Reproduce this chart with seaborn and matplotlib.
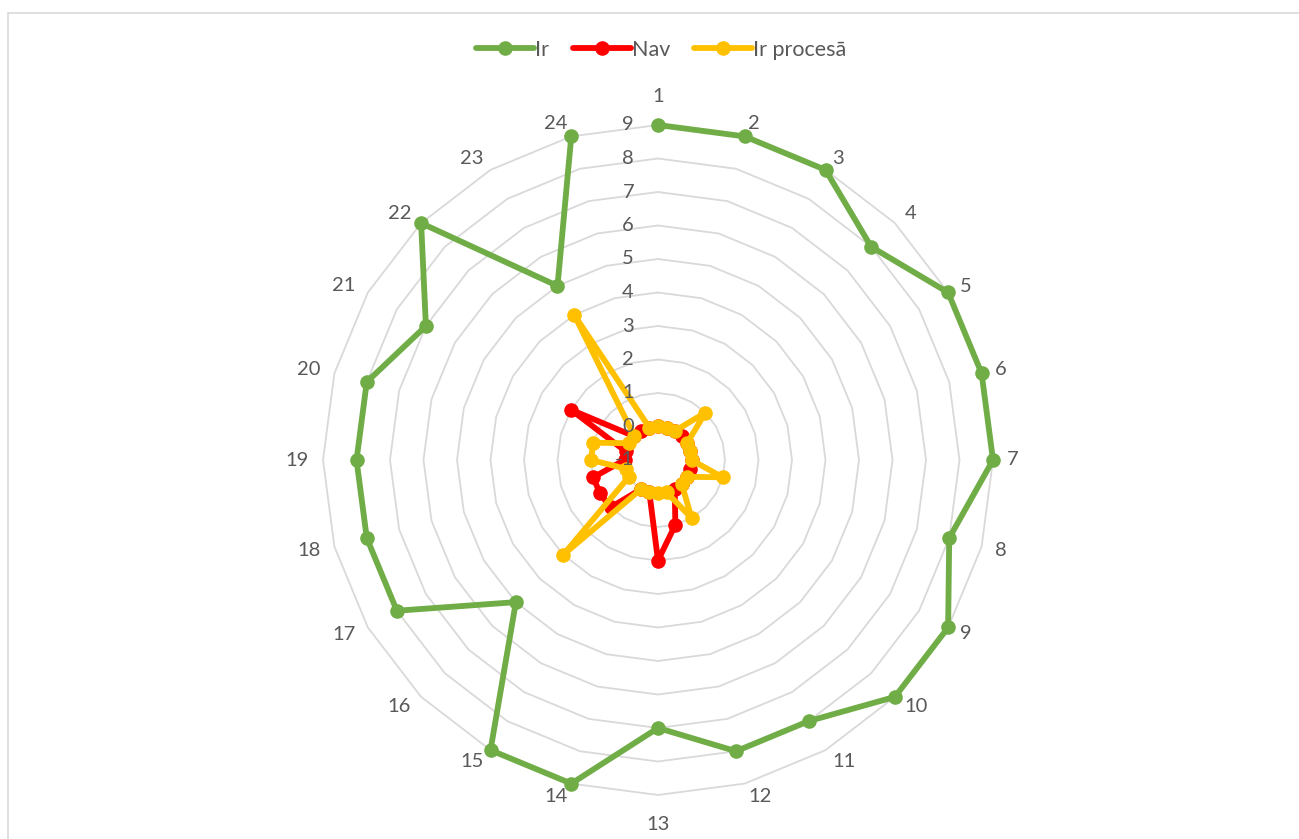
import numpy as np
import pandas as pd
import matplotlib
matplotlib.use("Agg")
import matplotlib.pyplot as plt
import matplotlib.transforms as mtransforms
from matplotlib.lines import Line2D
import seaborn as sns

# ---- data -------------------------------------------------------------
categories = [str(i) for i in range(1, 25)]
ir = [9, 9, 9, 8, 9, 9, 9, 8, 9, 9, 8, 8, 7, 9, 9, 5, 8, 8, 8, 8, 7, 9, 5, 9]
nav = [0, 0, 0, 0, 0, 0, 0, 0, 0, 0, 0, 1, 2, 0, 0, 1, 1, 1, 0, 0, 2, 0, 0, 0]
ir_procesa = [0, 0, 0, 1, 0, 0, 0, 1, 0, 0, 1, 0, 0, 0, 0, 3, 0, 0, 1, 1, 0, 0, 4, 0]
series_names = ["Ir", "Nav", "Ir procesā"]
series_values = [ir, nav, ir_procesa]
series_colors = ["#70AD47", "#FF0000", "#FFC000"]
r_ticks = list(range(-1, 10))

# ---- style ------------------------------------------------------------
sns.set_theme(style="white")
plt.rcParams["font.family"] = ["Lato", "DejaVu Sans"]
text_color = "#595959"
grid_color = "#D9D9D9"
fs = 14.5

W, H = 1299, 839
fig = plt.figure(figsize=(W / 100, H / 100), dpi=100)
fig.patch.set_facecolor("white")

# chart-area frame (top and left edges fall inside the canvas)
frame_kw = dict(color="#D9D9D9", lw=1.2, transform=fig.transFigure)
fig.add_artist(Line2D([7.5 / W, 1.01], [1 - 12.7 / H] * 2, **frame_kw))
fig.add_artist(Line2D([7.5 / W] * 2, [-0.01, 1 - 12.7 / H], **frame_kw))

cx, cy, R = 658, 460, 335
ax = fig.add_axes([(cx - R) / W, (H - cy - R) / H, 2 * R / W, 2 * R / H],
                  projection="polar")
ax.set_theta_zero_location("N")
ax.set_theta_direction(-1)
ax.set_ylim(r_ticks[0], r_ticks[-1])
ax.grid(False)
ax.spines["polar"].set_visible(False)
ax.set_facecolor("none")

n = len(categories)
angles = np.arange(n) * 2 * np.pi / n
closed = np.append(angles, angles[0])

# polygonal gridlines
for v in r_ticks[1:]:
    ax.plot(closed, [v] * (n + 1), color=grid_color, lw=1.3, zorder=1,
            clip_on=False)

# series
for name, vals, col in zip(series_names, series_values, series_colors):
    df = pd.DataFrame({"theta": closed, "value": list(vals) + [vals[0]]})
    sns.lineplot(data=df, x="theta", y="value", sort=False, ax=ax,
                 color=col, lw=4.2, marker="o", markersize=10.5,
                 markeredgewidth=0, zorder=3, clip_on=False, legend=False)
ax.set_xlabel("")
ax.set_ylabel("")
ax.set_xticks([])
ax.set_yticks([])

# radial value labels along the first spoke
off = mtransforms.offset_copy(ax.transData, fig=fig, x=-24, y=0, units="dots")
for v in r_ticks:
    ax.text(0, v, str(v), transform=off, ha="right", va="center",
            fontsize=fs, color=text_color, zorder=4, clip_on=False)

# category labels, anchored just outside the outer ring
for ang, lab in zip(angles, categories):
    s, c = np.sin(ang), np.cos(ang)
    if abs(s) < 1e-6:
        ha, dx, dy = "center", 0, 29 * np.sign(c)
    else:
        ha = "left" if s > 0 else "right"
        dx, dy = 14 * s, 13 * c
    tr = mtransforms.offset_copy(ax.transData, fig=fig, x=dx, y=dy, units="dots")
    ax.text(ang, r_ticks[-1], lab, transform=tr, ha=ha, va="center",
            fontsize=fs, color=text_color, clip_on=False)

# legend
handles = [Line2D([0], [0], color=c, lw=4.2, marker="o", markersize=10.5,
                  markeredgewidth=0) for c in series_colors]
fig.legend(handles, series_names, loc="center", bbox_to_anchor=(661 / W, 1 - 50 / H),
           ncol=3, frameon=False, fontsize=15.5, labelcolor=text_color,
           handlelength=2.7, handletextpad=0.05, columnspacing=1.1)

fig.savefig("out.png", dpi=100, facecolor="white")
